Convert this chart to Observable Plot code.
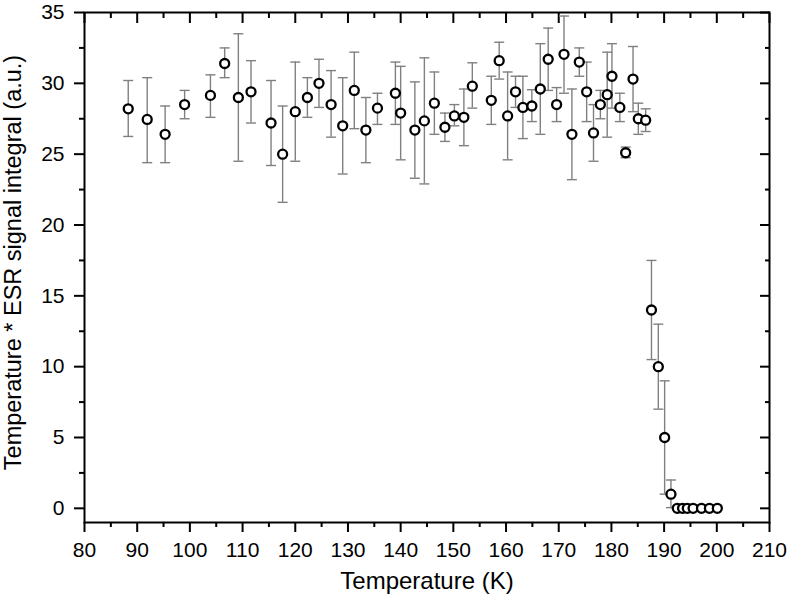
<!DOCTYPE html>
<html><head><meta charset="utf-8">
<script src="https://cdn.jsdelivr.net/npm/d3@7"></script>
<script src="https://cdn.jsdelivr.net/npm/@observablehq/plot@0.6"></script>
<style>body{margin:0;background:#fff} #chart svg{display:block}</style>
</head><body><div id="chart"></div>
<script>
const temperature = [88.3, 91.9, 95.3, 99.0, 103.9, 106.6, 109.2, 111.6, 115.4, 117.6, 120.0, 122.3, 124.5, 126.8, 129.0, 131.2, 133.4, 135.6, 139.0, 140.0, 142.7, 144.5, 146.4, 148.4, 150.2, 152.0, 153.6, 157.2, 158.7, 160.3, 161.8, 163.2, 164.9, 166.5, 168.0, 169.6, 171.0, 172.5, 173.9, 175.3, 176.6, 177.9, 179.2, 180.1, 181.6, 182.7, 184.1, 185.1, 186.5, 187.6, 188.9, 190.1, 191.3, 192.5, 193.5, 194.4, 195.5, 197.1, 198.6, 200.1];
const signal = [28.2, 27.45, 26.4, 28.5, 29.15, 31.4, 29.0, 29.4, 27.2, 25.0, 28.0, 29.0, 30.0, 28.5, 27.0, 29.5, 26.7, 28.25, 29.3, 27.9, 26.7, 27.35, 28.6, 26.9, 27.7, 27.6, 29.8, 28.8, 31.6, 27.7, 29.4, 28.3, 28.4, 29.6, 31.7, 28.5, 32.05, 26.4, 31.5, 29.4, 26.5, 28.5, 29.2, 30.5, 28.3, 25.1, 30.3, 27.5, 27.4, 14.0, 10.0, 5.0, 1.0, 0, 0, 0, 0, 0, 0, 0];
const errHigh = [30.2, 30.4, 28.4, 29.5, 30.6, 32.5, 33.5, 31.6, 30.2, 28.4, 31.5, 30.4, 31.7, 30.9, 30.4, 32.2, 29.0, 29.3, 31.5, 31.2, 30.1, 31.8, 30.8, 27.9, 28.5, 29.6, 31.45, 30.5, 32.9, 30.8, 30.5, 30.5, 29.55, 32.8, 33.9, 29.7, 34.75, 29.6, 32.5, 31.5, 28.5, 29.5, 32.2, 32.8, 29.3, 25.5, 32.6, 28.6, 28.2, 17.5, 13.0, 9.0, 2.0, 0, 0, 0, 0, 0, 0, 0];
const errLow = [26.25, 24.4, 24.4, 27.5, 27.6, 30.4, 24.5, 27.2, 24.2, 21.6, 24.5, 27.6, 28.3, 26.2, 23.6, 26.8, 24.4, 27.1, 27.1, 24.6, 23.3, 22.9, 26.4, 25.9, 27.0, 25.6, 28.25, 27.1, 30.3, 24.6, 28.3, 26.1, 27.3, 26.4, 29.5, 27.3, 29.3, 23.2, 30.5, 27.3, 24.5, 27.5, 26.2, 28.25, 27.3, 24.75, 28.0, 26.4, 26.6, 10.5, 7.0, 1.0, 0.05, 0, 0, 0, 0, 0, 0, 0];

const xTicks = [80, 90, 100, 110, 120, 130, 140, 150, 160, 170, 180, 190, 200, 210];
const xMinorTicks = [85, 95, 105, 115, 125, 135, 145, 155, 165, 175, 185, 195, 205];
const yTicks = [0, 5, 10, 15, 20, 25, 30, 35];
const yMinorTicks = [2.5, 7.5, 12.5, 17.5, 22.5, 27.5, 32.5];
const xLabel = "Temperature (K)";
const yLabel = "Temperature * ESR signal integral (a.u.)";

const data = temperature.map((t, i) => ({t, v: signal[i], hi: errHigh[i], lo: errLow[i]}));
const bars = data.filter(d => d.hi > d.lo);

const capSymbol = {
  draw(context, size) {
    const w = Math.sqrt(size / Math.PI);
    context.moveTo(-w, 0);
    context.lineTo(w, 0);
  }
};

const barColor = "#808080";

const chart = Plot.plot({
  width: 788,
  height: 597,
  marginLeft: 84,
  marginRight: 19,
  marginTop: 12,
  marginBottom: 75,
  style: {fontFamily: "'Liberation Sans', Arial, sans-serif", fontSize: "21px", color: "black", background: "white"},
  x: {domain: [80, 210], label: null},
  y: {domain: [-1, 35], label: null},
  marks: [
    Plot.axisX({ticks: xTicks, tickSize: 10, tickPadding: 10, tickFormat: d => d, strokeWidth: 2, label: null}),
    Plot.axisX({ticks: xMinorTicks, tickSize: 5, fill: "none", strokeWidth: 2, label: null}),
    Plot.axisX({anchor: "top", ticks: xTicks, tickSize: 10, dy: 10, fill: "none", strokeWidth: 2, label: null}),
    Plot.axisX({anchor: "top", ticks: xMinorTicks, tickSize: 5, dy: 5, fill: "none", strokeWidth: 2, label: null}),
    Plot.axisY({ticks: yTicks, tickSize: 10, tickPadding: 10, tickFormat: d => d, strokeWidth: 2, label: null}),
    Plot.axisY({ticks: yMinorTicks, tickSize: 5, fill: "none", strokeWidth: 2, label: null}),
    Plot.axisY({anchor: "right", ticks: yTicks, tickSize: 10, dx: -10, fill: "none", strokeWidth: 2, label: null}),
    Plot.axisY({anchor: "right", ticks: yMinorTicks, tickSize: 5, dx: -5, fill: "none", strokeWidth: 2, label: null}),
    Plot.frame({strokeWidth: 2}),
    Plot.ruleX(bars, {x: "t", y1: "lo", y2: "hi", stroke: barColor, strokeWidth: 1.4}),
    Plot.dot(bars, {x: "t", y: "hi", symbol: capSymbol, r: 5, stroke: barColor, strokeWidth: 1.4, fill: "none"}),
    Plot.dot(bars, {x: "t", y: "lo", symbol: capSymbol, r: 5, stroke: barColor, strokeWidth: 1.4, fill: "none"}),
    Plot.dot(data, {x: "t", y: "v", r: 4.5, stroke: "black", strokeWidth: 2.3, fill: "white"}),
    Plot.text([xLabel], {text: d => d, frameAnchor: "bottom", dy: 59, textAnchor: "middle", lineAnchor: "middle", fontSize: 24, fill: "black"}),
    Plot.text([yLabel], {text: d => d, frameAnchor: "left", dx: -71, dy: -5, rotate: -90, textAnchor: "middle", lineAnchor: "middle", fontSize: 23.5, fill: "black"})
  ]
});
document.getElementById("chart").appendChild(chart);
</script>
</body></html>
